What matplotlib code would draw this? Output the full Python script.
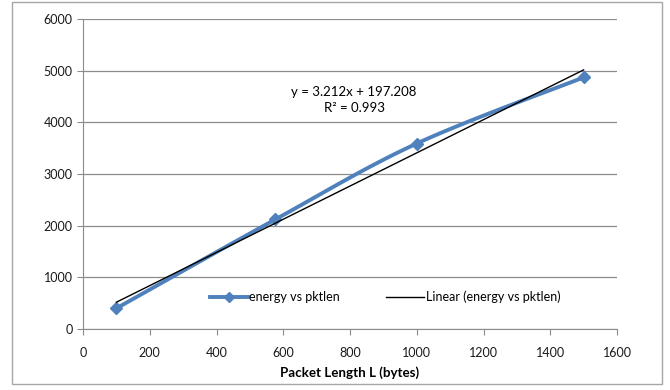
import matplotlib.pyplot as plt
from matplotlib.patches import Rectangle
from matplotlib.lines import Line2D
import numpy as np

plt.rcParams['font.family'] = ['Lato', 'DejaVu Sans']

pkt_len = [100, 576, 1000, 1500]
energy = [400, 2120, 3590, 4870]
slope, intercept = 3.212, 197.208
r2 = 0.993


def smooth(xs, ys, n=40):
    # excel-style smoothed line (catmull-rom bezier)
    xs = np.asarray(xs, float)
    ys = np.asarray(ys, float)
    px = np.concatenate([[xs[0]], xs, [xs[-1]]])
    py = np.concatenate([[ys[0]], ys, [ys[-1]]])
    ox, oy = [], []
    t = np.linspace(0, 1, n)
    for i in range(1, len(px) - 2):
        p0 = np.array([px[i], py[i]])
        p3 = np.array([px[i + 1], py[i + 1]])
        p1 = p0 + (p3 - np.array([px[i - 1], py[i - 1]])) / 6
        p2 = p3 - (np.array([px[i + 2], py[i + 2]]) - p0) / 6
        b = ((1 - t) ** 3)[:, None] * p0 + (3 * (1 - t) ** 2 * t)[:, None] * p1 \
            + (3 * (1 - t) * t ** 2)[:, None] * p2 + (t ** 3)[:, None] * p3
        ox.extend(b[:, 0])
        oy.extend(b[:, 1])
    return ox, oy


fig = plt.figure(figsize=(6.7, 3.9), dpi=100)
fig.patches.append(Rectangle((12 / 670, 6 / 390), 650 / 670, 382 / 390,
                             transform=fig.transFigure, fill=False,
                             edgecolor='#a6a6a6', linewidth=1))
ax = fig.add_axes([83 / 670, 61 / 390, 534 / 670, 310 / 390])

blue = '#4f81bd'
sx, sy = smooth(pkt_len, energy)
ax.plot(sx, sy, color=blue, linewidth=2.8, zorder=3)
ax.plot(pkt_len, energy, linestyle='none', marker='D', markersize=6,
        color=blue, zorder=4)

tx = np.array([pkt_len[0], pkt_len[-1]])
ax.plot(tx, slope * tx + intercept, color='black', linewidth=1, zorder=5)

ax.text(812, 4430, f'y = {slope}x + {intercept}\nR² = {r2}', ha='center',
        va='center', fontsize=9.5, linespacing=1.35)

ax.set_xlim(0, 1600)
ax.set_ylim(0, 6000)
ax.set_xticks(range(0, 1601, 200))
ax.set_yticks(range(0, 6001, 1000))
ax.grid(axis='y', color='#8c8c8c', linewidth=0.9)
ax.set_axisbelow(True)
for s in ['top', 'right']:
    ax.spines[s].set_visible(False)
for s in ['left', 'bottom']:
    ax.spines[s].set_color('#8c8c8c')
ax.tick_params(colors='#8c8c8c', labelcolor='#1a1a1a', labelsize=9,
               length=4, direction='out')
ax.tick_params(axis='x', pad=9)
ax.set_xlabel('Packet Length L (bytes)', fontweight='bold', fontsize=9.6,
              labelpad=5)

handles = [Line2D([], [], color=blue, linewidth=2.8, marker='D', markersize=5),
           Line2D([], [], color='black', linewidth=1)]
ax.legend(handles, ['energy vs pktlen', 'Linear (energy vs pktlen)'],
          loc='center', bbox_to_anchor=(0.566, 0.104), ncol=2, frameon=False,
          fontsize=9, handlelength=3.0, handletextpad=0.15, columnspacing=3.7)

plt.savefig('out.png', dpi=100)
